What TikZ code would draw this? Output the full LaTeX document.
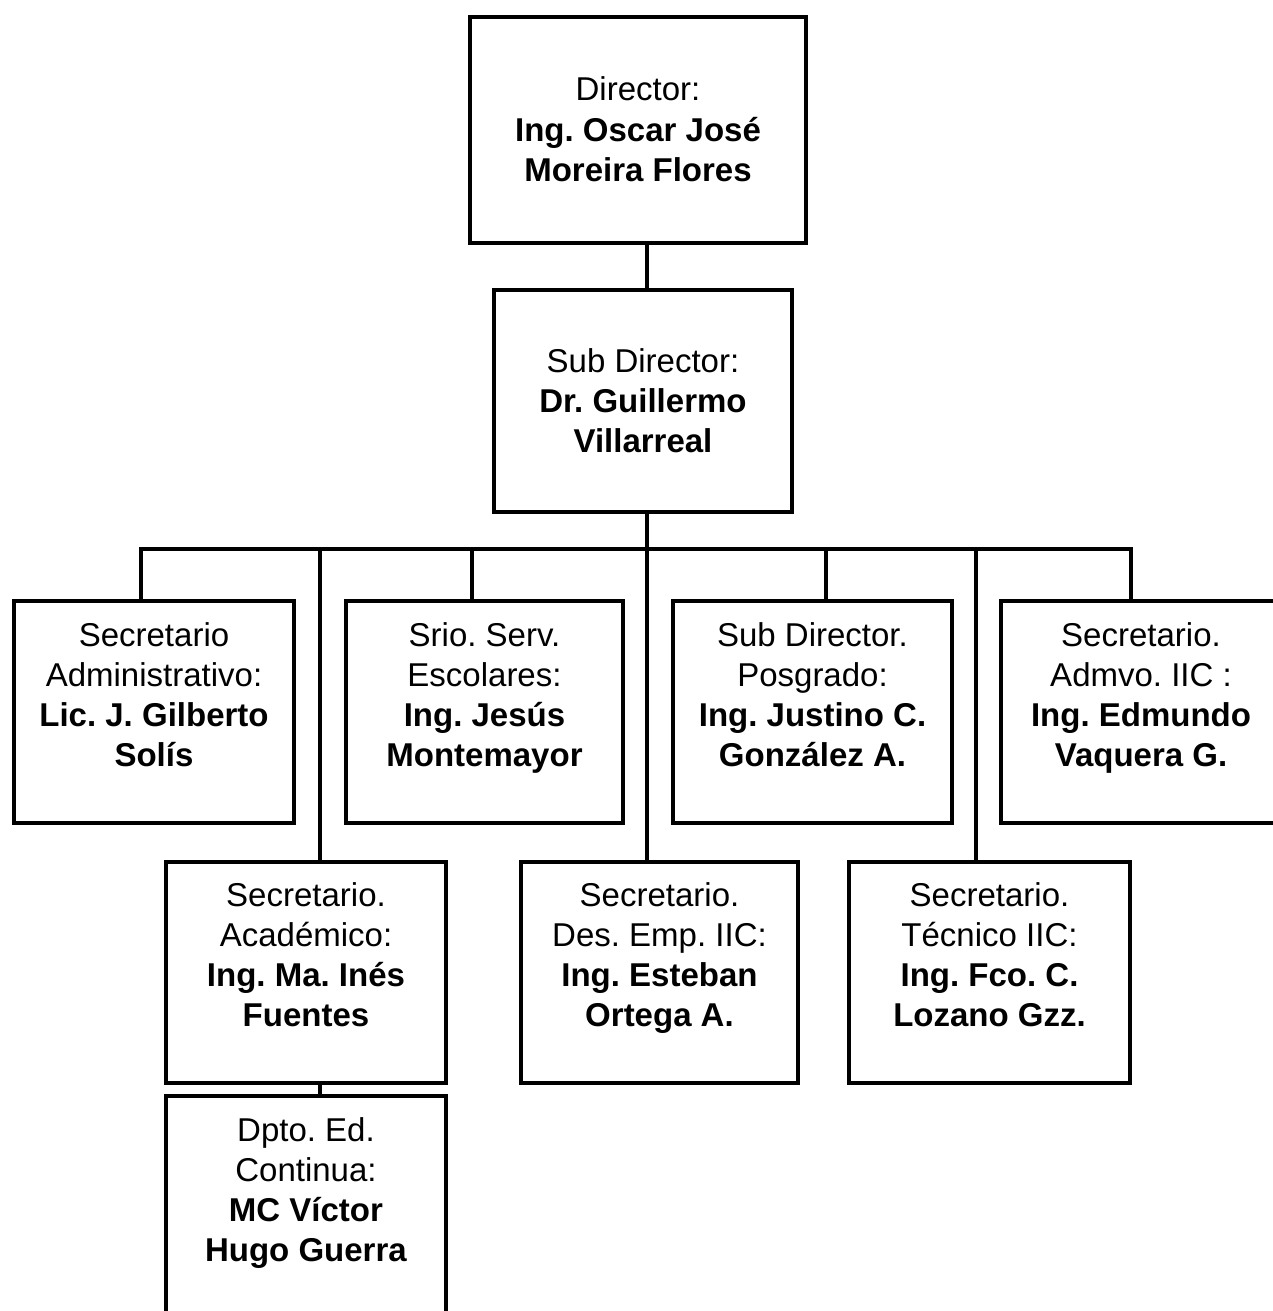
\documentclass[tikz,border=0pt]{standalone}
\usepackage{fontspec}
\setmainfont{Liberation Sans}
\newcommand{\tsA}{\rule{0pt}{17pt}}
\newcommand{\tsB}{\rule{0pt}{20pt}}
\begin{document}
\begin{tikzpicture}[x=0.5pt,y=-0.5pt,
  box/.style={draw, line width=2.2pt, rectangle, align=center, inner sep=0pt,
    font=\fontsize{16.5}{20}\selectfont\frenchspacing},
  conn/.style={line width=1.9pt}]
\clip (0,0) rectangle (1273,1311);
\fill[white] (0,0) rectangle (1273,1311);

% top levels
\node[box, minimum width=168pt, minimum height=113pt] (dir) at (638,130)
  {\tsA Director:\\ \textbf{Ing. Oscar José}\\ \textbf{Moreira Flores}\strut};
\node[box, minimum width=149pt, minimum height=111pt] (sub) at (643,401)
  {\tsA Sub Director:\\ \textbf{Dr. Guillermo}\\ \textbf{Villarreal}\strut};

% row 1
\node[box, minimum width=140pt, minimum height=111pt] (sa) at (154,712)
  {\tsB Secretario\\ Administrativo:\\ \textbf{Lic. J. Gilberto}\\ \textbf{Solís}\\ \strut};
\node[box, minimum width=138.5pt, minimum height=111pt] (se) at (484.5,712)
  {\tsB Srio. Serv.\\ Escolares:\\ \textbf{Ing. Jesús}\\ \textbf{Montemayor}\\ \strut};
\node[box, minimum width=139.5pt, minimum height=111pt] (sp) at (812.5,712)
  {\tsB Sub Director.\\ Posgrado:\\ \textbf{Ing. Justino C.}\\ \textbf{González A.}\\ \strut};
\node[box, minimum width=140pt, minimum height=111pt] (sadm) at (1141,712)
  {\tsB Secretario.\\ Admvo. IIC :\\ \textbf{Ing. Edmundo}\\ \textbf{Vaquera G.}\\ \strut};

% row 2
\node[box, minimum width=140pt, minimum height=110.5pt] (sac) at (306,972.5)
  {\tsB Secretario.\\ Académico:\\ \textbf{Ing. Ma. Inés}\\ \textbf{Fuentes}\\ \strut};
\node[box, minimum width=138.5pt, minimum height=110.5pt] (sde) at (659.5,972.5)
  {\tsB Secretario.\\ Des. Emp. IIC:\\ \textbf{Ing. Esteban}\\ \textbf{Ortega A.}\\ \strut};
\node[box, minimum width=140.5pt, minimum height=110.5pt] (stec) at (989.5,972.5)
  {\tsB Secretario.\\ Técnico IIC:\\ \textbf{Ing. Fco. C.}\\ \textbf{Lozano Gzz.}\\ \strut};

% row 3
\node[box, minimum width=140pt, minimum height=111pt] (dpto) at (306,1207)
  {\tsB Dpto. Ed.\\ Continua:\\ \textbf{MC Víctor}\\ \textbf{Hugo Guerra}\\ \strut};

% bar coordinates
\coordinate (spine) at (647,549);
\coordinate (b1) at (141,549);
\coordinate (b2) at (320,549);
\coordinate (b3) at (472,549);
\coordinate (b5) at (826,549);
\coordinate (b6) at (976,549);
\coordinate (b7) at (1131,549);

% connectors
\draw[conn] (dir.south -| spine) -- (sub.north -| spine);
\draw[conn] (sub.south -| spine) -- (sde.north -| spine);
\draw[conn, line join=miter] (b1 |- sa.north) -- (b1) -- (b7) -- (b7 |- sadm.north);
\draw[conn] (b2) -- (b2 |- sac.north);
\draw[conn] (b3) -- (b3 |- se.north);
\draw[conn] (b5) -- (b5 |- sp.north);
\draw[conn] (b6) -- (b6 |- stec.north);
\draw[conn] (sac.south -| b2) -- (dpto.north -| b2);
\end{tikzpicture}
\end{document}
